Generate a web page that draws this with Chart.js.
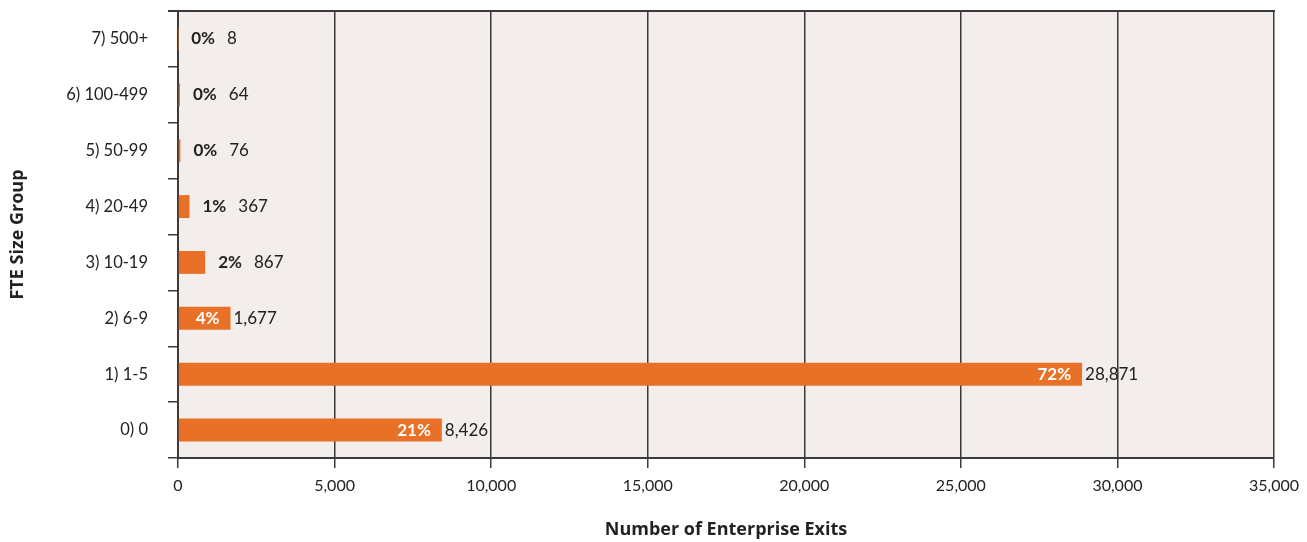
<!DOCTYPE html>
<html lang="en">

<head>
    <meta charset="UTF-8">
    <title>Enterprise Exits by FTE Size Group</title>
    <script src="https://cdn.jsdelivr.net/npm/chart.js"></script>
    <style>
        body { margin: 0; background: #fff; }
        #wrap { width: 1307px; height: 542px; }
    </style>
</head>

<body>
    <div id="wrap"><canvas id="exitsChart" width="1307" height="542"></canvas></div>

    <script>
        // size groups, top row first
        const sizeGroups = ['7) 500+', '6) 100-499', '5) 50-99', '4) 20-49', '3) 10-19', '2) 6-9', '1) 1-5', '0) 0'];
        const exits = [8, 64, 76, 367, 867, 1677, 28871, 8426];
        const xTicks = [0, 5000, 10000, 15000, 20000, 25000, 30000, 35000];

        const total = exits.reduce((a, b) => a + b, 0);
        const barColor = '#e97127';
        const lineColor = '#3a3a3a';
        const textColor = '#222';

        // plot background + top frame line
        const frame = {
            id: 'frame',
            beforeDraw(chart) {
                const { ctx, chartArea: a } = chart;
                ctx.save();
                ctx.fillStyle = '#f3eeeb';
                ctx.fillRect(a.left, a.top, a.right - a.left, a.bottom - a.top);
                ctx.restore();
            },
            afterDraw(chart) {
                const { ctx, chartArea: a } = chart;
                ctx.save();
                ctx.strokeStyle = lineColor;
                ctx.lineWidth = 2;
                ctx.beginPath();
                ctx.moveTo(a.left - 10, a.top);
                ctx.lineTo(a.right + 1, a.top);
                ctx.stroke();
                ctx.restore();
            }
        };

        // share + count labels at the end of each bar
        const barLabels = {
            id: 'barLabels',
            afterDatasetsDraw(chart) {
                const { ctx } = chart;
                const meta = chart.getDatasetMeta(0);
                const boldFont = 'bold 17px Lato';
                const plainFont = '17px Lato';
                ctx.save();
                ctx.textBaseline = 'middle';
                meta.data.forEach((bar, i) => {
                    const v = exits[i];
                    const pct = Math.round(v / total * 100) + '%';
                    const count = v.toLocaleString('en-US');
                    const x0 = bar.base;
                    const x1 = bar.x;
                    const y = bar.y;
                    ctx.font = boldFont;
                    const pw = ctx.measureText(pct).width;
                    if (x1 - x0 > pw + 20) {
                        ctx.fillStyle = '#fff';
                        ctx.textAlign = 'right';
                        ctx.fillText(pct, x1 - 11, y);
                        ctx.font = plainFont;
                        ctx.fillStyle = textColor;
                        ctx.textAlign = 'left';
                        ctx.fillText(count, x1 + 3, y);
                    } else {
                        ctx.fillStyle = textColor;
                        ctx.textAlign = 'left';
                        ctx.fillText(pct, x1 + 13, y);
                        ctx.font = plainFont;
                        ctx.fillText(count, x1 + 13 + pw + 12, y);
                    }
                });
                ctx.restore();
            }
        };

        new Chart(document.getElementById('exitsChart'), {
            type: 'bar',
            data: {
                labels: sizeGroups,
                datasets: [{
                    data: exits,
                    backgroundColor: barColor,
                    borderWidth: 0,
                    categoryPercentage: 1,
                    barPercentage: 0.41
                }]
            },
            options: {
                indexAxis: 'y',
                responsive: false,
                animation: false,
                layout: { padding: { top: 11, right: 33, left: 0, bottom: 0 } },
                plugins: {
                    legend: { display: false },
                    tooltip: { enabled: false }
                },
                scales: {
                    x: {
                        min: 0,
                        max: 35000,
                        afterBuildTicks: scale => { scale.ticks = xTicks.map(v => ({ value: v })); },
                        afterFit: scale => {
                            scale.height = 84;
                            scale.paddingLeft = 0;
                            scale.paddingRight = 0;
                        },
                        ticks: {
                            color: textColor,
                            font: { family: 'Lato', size: 16 },
                            padding: 8,
                            maxRotation: 0,
                            callback: v => v.toLocaleString('en-US')
                        },
                        grid: { color: lineColor, lineWidth: 1.5, tickLength: 10 },
                        border: { color: lineColor, width: 2 },
                        title: {
                            display: true,
                            text: 'Number of Enterprise Exits',
                            color: textColor,
                            font: { family: 'Open Sans', size: 18, weight: 'bold' },
                            padding: { top: 0, bottom: 1 }
                        }
                    },
                    y: {
                        afterFit: scale => {
                            scale.width = 178;
                            scale.paddingTop = 0;
                            scale.paddingBottom = 0;
                        },
                        ticks: {
                            color: textColor,
                            font: { family: 'Lato', size: 16.5 },
                            padding: 20
                        },
                        grid: {
                            offset: true,
                            drawOnChartArea: false,
                            color: lineColor,
                            lineWidth: 1.5,
                            tickLength: 10
                        },
                        border: { color: lineColor, width: 2 },
                        title: {
                            display: true,
                            text: 'FTE Size Group',
                            color: textColor,
                            font: { family: 'Open Sans', size: 18, weight: 'bold' },
                            padding: { top: 7, bottom: 0 }
                        }
                    }
                }
            },
            plugins: [frame, barLabels]
        });
    </script>
</body>

</html>
